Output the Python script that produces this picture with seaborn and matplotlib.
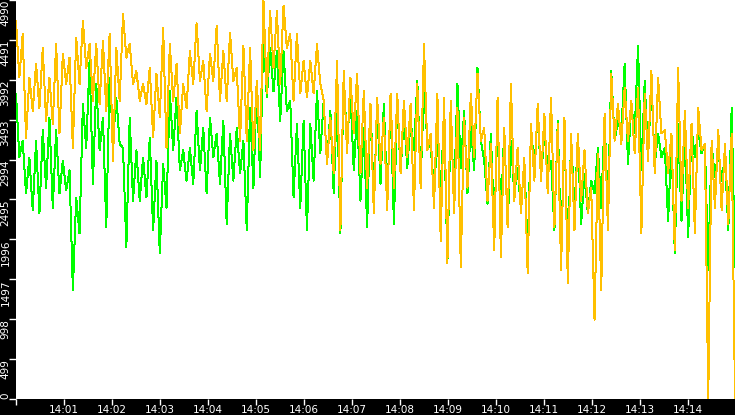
import pandas as pd
import matplotlib
matplotlib.use("Agg")
import matplotlib.pyplot as plt
import matplotlib.dates as mdates
import seaborn as sns

orange_vals = [
    4730, 4020, 4570, 3260, 4020, 3600, 4190, 3640, 4390, 3480, 4020, 3440,
    4440, 3320, 4320, 3940, 4270, 3140, 4520, 3940, 4730, 4140, 4440, 3730,
    4440, 3690, 4480, 3600, 4570, 2980, 4390, 3730, 4820, 4270, 4440, 3940,
    4100, 3730, 3940, 3690, 4140, 3270, 4070, 3520, 4640, 3140, 4440, 3730,
    4190, 3320, 3940, 3640, 4350, 3940,
    4700, 3980, 4230, 3600, 4320, 3980, 4670, 3730, 4350, 3730, 4580, 3980,
    4140, 3230, 4420, 3230, 4390, 3110, 3980, 3110, 4980, 3820, 4850, 4140,
    4850, 3940, 4920, 4390, 4570, 3730, 4570, 3820, 4230, 3770, 4230, 3820,
    4440, 3940, 3730, 2940, 3520, 2820, 4230, 2110, 4100, 3070, 4020, 3320,
    4070, 2820, 3850, 2640, 3690, 2320,
    3770, 2940, 3520, 2360, 3820, 2640, 3820, 2820, 3730, 3020, 3690, 2360,
    3940, 2640, 4440, 3110, 3320, 2390, 3820, 1980, 3770, 1700, 3730, 2320,
    3640, 1650, 3520, 2640, 3820, 3020, 4070, 3230, 3390, 2480, 3190, 1860,
    3770, 1770, 3390, 2150, 3940, 2480, 3140, 2320, 3020, 1570, 3440, 2730,
    3690, 2730, 3570, 2570, 3770, 2150,
    3440, 1610, 3520, 1450, 3320, 2110, 3320, 2480, 3110, 2320, 2640, 990,
    3070, 1360, 3570, 2110, 4070, 3230, 3690, 3190, 3890, 3230, 3730, 3070,
    3890, 2070, 3820, 2980, 4100, 2820, 4020, 3320, 3360, 2820, 3320, 1860,
    4140, 2480, 3600, 2390, 3440, 2070, 3640, 3110, 3190, 0, 3230, 2390,
    3360, 2360, 3190, 2190, 3320, 0,
]

green_vals = [
    3820, 3020, 3230, 2570, 3020, 2360, 3230, 2320, 3360, 2640, 3520, 2390,
    3360, 2570, 2980, 2610, 2860, 1360, 2520, 2070, 3690, 3140, 4230, 2690,
    3940, 3110, 3520, 2150, 4020, 3230, 3770, 3190, 3140, 1900, 3520, 2480,
    3110, 2480, 3020, 2520, 3270, 2110, 2980, 1820, 2940, 2390, 3850, 3110,
    3770, 2860, 3110, 2730, 3140, 2690,
    3600, 2860, 3390, 2570, 3520, 3020, 3320, 2690, 3480, 2190, 3320, 2730,
    3390, 2820, 3230, 2110, 3640, 2640, 3940, 2770, 4610, 3770, 4390, 3850,
    4350, 3480, 4350, 3600, 3730, 2520, 3440, 2390, 3480, 2110, 3440, 2730,
    3850, 3070, 3730, 2940, 3600, 2570, 3770, 2070, 4020, 3190, 3820, 2860,
    3600, 2480, 3390, 2150, 3690, 2480,
    3640, 2690, 3690, 2480, 3690, 2190, 3730, 2820, 3570, 2890, 3480, 3110,
    3980, 2730, 3850, 3230, 3140, 2640, 3230, 2640, 3520, 1700, 3520, 2520,
    3940, 2890, 3600, 2570, 3440, 2860, 4140, 3230, 2980, 2440, 3320, 2150,
    3440, 2270, 3390, 2150, 3230, 2570, 2890, 2360, 2980, 1860, 3390, 2890,
    3570, 2770, 3320, 2890, 2980, 2110,
    3480, 1860, 3360, 1770, 3270, 2390, 3230, 2190, 2820, 2320, 2730, 2570,
    3140, 2390, 3520, 2360, 4100, 3230, 3480, 3320, 4190, 2940, 3690, 3320,
    4420, 2860, 3980, 3020, 3940, 2940, 3320, 3020, 3140, 2230, 3190, 1820,
    3440, 2230, 3360, 2020, 3390, 3020, 3360, 3070, 3190, 1610, 3190, 2770,
    3110, 2730, 3020, 2110, 3640, 1650,
]

y_ticks = [0, 499, 998, 1497, 1996, 2495, 2994, 3493, 3992, 4491, 4990]

start = pd.Timestamp("2021-04-01 14:00:00")
end = pd.Timestamp("2021-04-01 14:14:59")

green = pd.DataFrame({"time": pd.date_range(start, end, periods=len(green_vals)),
                      "value": green_vals})
orange = pd.DataFrame({"time": pd.date_range(start, end, periods=len(orange_vals)),
                       "value": orange_vals})

sns.set_style("white")
plt.rcParams["font.family"] = ["DejaVu Sans"]

fig = plt.figure(figsize=(7.35, 4.15), dpi=100, facecolor="black")
ax = fig.add_axes([16 / 735, 16 / 415, 719 / 735, 399 / 415])
ax.set_facecolor("white")

sns.lineplot(data=green, x="time", y="value", color="#00ff00", linewidth=0.72,
             antialiased=False, ax=ax)
sns.lineplot(data=orange, x="time", y="value", color="#ffc000", linewidth=0.72,
             antialiased=False, ax=ax)

ax.set_xlim(start, start + pd.Timedelta(seconds=899))
ax.set_ylim(0, 4990)
ax.set_xlabel("")
ax.set_ylabel("")
for s in ax.spines.values():
    s.set_visible(False)

ax.xaxis.set_major_locator(mdates.MinuteLocator())
ax.xaxis.set_major_formatter(mdates.DateFormatter("%H:%M"))
ax.set_yticks(y_ticks)
ax.set_yticklabels([str(v) for v in y_ticks])

ax.tick_params(axis="both", colors="white", labelsize=7.5, length=4, width=1,
               direction="out", bottom=True, left=True)
ax.tick_params(axis="x", pad=0.5)
ax.tick_params(axis="y", pad=-1, length=5)

for lab in ax.get_xticklabels():
    if lab.get_text() == "14:00":
        lab.set_visible(False)

for lab in ax.get_yticklabels():
    lab.set_rotation(90)
    lab.set_va("top")
    lab.set_ha("right")
ax.get_yticklabels()[0].set_va("bottom")

plt.savefig("out.png", dpi=100, facecolor="black")
